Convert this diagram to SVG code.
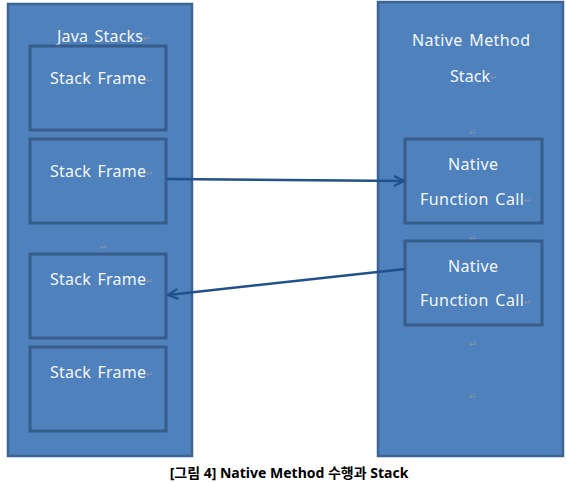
<svg xmlns="http://www.w3.org/2000/svg" width="567" height="483" viewBox="0 0 567 483">
<style>
.big{fill:#4f81bd;stroke:#3c6494;stroke-width:2.5}
.box{fill:#4f81bd;stroke:#385d8a;stroke-width:3}
.t{font-family:"Noto Sans","DejaVu Sans",sans-serif;font-size:16px;fill:#f4f7fc;text-anchor:start;word-spacing:2px}
.pm{font-family:"DejaVu Sans",sans-serif;font-size:9px;fill:#8a96a8}
.cap{font-family:"Noto Sans","Noto Sans CJK KR",sans-serif;font-size:14px;font-weight:bold;fill:#000;text-anchor:middle}
.con{fill:none;stroke:#22508a;stroke-width:2.5}
</style>
<defs>
<marker id="ah" viewBox="0 0 12 12" refX="11" refY="6" markerWidth="12" markerHeight="12" markerUnits="userSpaceOnUse" orient="auto">
<path d="M1,1 L11,6 L1,11" fill="none" stroke="#22508a" stroke-width="2.2"/>
</marker>
</defs>
<g id="java-stacks">
<rect class="big" x="8" y="4" width="184" height="452"/>
<text class="t" x="57" y="42" textLength="86" lengthAdjust="spacing">Java Stacks</text>
<text class="pm" x="143" y="41">↵</text>
<text class="pm" x="100" y="250">↵</text>
</g>
<g id="frame1">
<rect class="box" x="30" y="46" width="136" height="84"/>
<text class="t" x="50" y="84" textLength="96" lengthAdjust="spacing">Stack Frame</text>
<text class="pm" x="146" y="83">↵</text>
</g>
<g id="frame2">
<rect class="box" x="30" y="139" width="136" height="84"/>
<text class="t" x="50" y="177" textLength="96" lengthAdjust="spacing">Stack Frame</text>
<text class="pm" x="146" y="176">↵</text>
</g>
<g id="frame3">
<rect class="box" x="30" y="254" width="136" height="84"/>
<text class="t" x="50" y="285" textLength="96" lengthAdjust="spacing">Stack Frame</text>
<text class="pm" x="146" y="284">↵</text>
</g>
<g id="frame4">
<rect class="box" x="30" y="347" width="136" height="84"/>
<text class="t" x="50" y="378" textLength="96" lengthAdjust="spacing">Stack Frame</text>
<text class="pm" x="146" y="377">↵</text>
</g>
<g id="native-method-stack">
<rect class="big" x="378" y="2" width="185" height="454"/>
<text class="t" x="412" y="46" textLength="118" lengthAdjust="spacing">Native Method</text>
<text class="t" x="450" y="82" textLength="40" lengthAdjust="spacing">Stack</text>
<text class="pm" x="490" y="80">↵</text>
<text class="pm" x="469" y="135">↵</text>
<text class="pm" x="469" y="241">↵</text>
<text class="pm" x="469" y="347">↵</text>
<text class="pm" x="469" y="399">↵</text>
</g>
<g id="native-call1">
<rect class="box" x="405" y="139" width="137" height="84"/>
<text class="t" x="448" y="170" textLength="50" lengthAdjust="spacing">Native</text>
<text class="t" x="420" y="205" textLength="104" lengthAdjust="spacing">Function Call</text>
<text class="pm" x="524" y="203">↵</text>
</g>
<g id="native-call2">
<rect class="box" x="405" y="241" width="137" height="84"/>
<text class="t" x="448" y="272" textLength="50" lengthAdjust="spacing">Native</text>
<text class="t" x="420" y="306" textLength="104" lengthAdjust="spacing">Function Call</text>
<text class="pm" x="524" y="305">↵</text>
</g>
<g id="connectors">
<line class="con" x1="167" y1="179" x2="404" y2="181" marker-end="url(#ah)"/>
<line class="con" x1="405" y1="269" x2="168" y2="295" marker-end="url(#ah)"/>
</g>
<text class="cap" x="289" y="478">[그림 4] Native Method 수행과 Stack</text>
</svg>
